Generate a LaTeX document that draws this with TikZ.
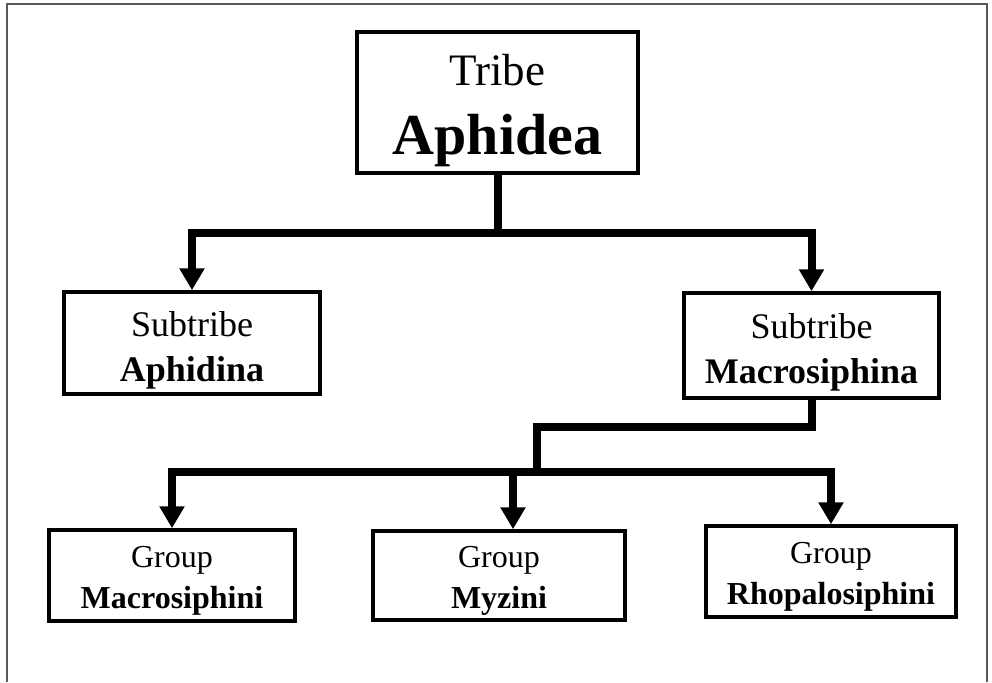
\documentclass[tikz,border=0pt]{standalone}
\usepackage{fontspec}
\setmainfont{Liberation Serif}
\usetikzlibrary{arrows.meta}
\begin{document}
\begin{tikzpicture}[x=1pt,y=-1pt,
  taxbox/.style={draw=black,line width=3.5pt,inner sep=0pt,fill=white},
  taxtext/.style={inner sep=0pt,align=center},
  conn/.style={line width=8pt,line join=miter,draw=black},
  tip/.style={-{Triangle[length=22pt,width=24pt]}},
  bothtips/.style={{Triangle[length=22pt,width=24pt]}-{Triangle[length=22pt,width=24pt]}},
  frameline/.style={draw=black!65,line width=2pt}
]
\useasboundingbox (0,0) rectangle (992,682);
% outer frame (open at the bottom)
\draw[frameline] (7,682) -- (7,4) -- (987,4) -- (987,682);

% tribe
\node[taxbox,minimum width=281pt,minimum height=141pt] (tribe) at (497.5,102.5) {};
\node[taxtext,font=\fontsize{45}{69}\selectfont,yshift=-8pt] (tribe-t) at (tribe.center)
  {Tribe\\{\fontsize{58}{69}\selectfont\bfseries Aphidea}};

% subtribes
\node[taxbox,minimum width=256pt,minimum height=102pt] (aphidina) at (192,343) {};
\node[taxtext,font=\fontsize{36}{45}\selectfont,yshift=-7pt] (aphidina-t) at (aphidina.center)
  {Subtribe\\\textbf{Aphidina}};
\node[taxbox,minimum width=255pt,minimum height=105pt] (macro) at (811.5,345.5) {};
\node[taxtext,font=\fontsize{36}{45}\selectfont,yshift=-7pt] (macro-t) at (macro.center)
  {Subtribe\\\textbf{Macrosiphina}};

% groups
\node[taxbox,minimum width=246pt,minimum height=91pt] (gmac) at (172,575.5) {};
\node[taxtext,font=\fontsize{32}{41}\selectfont,yshift=-5pt] (gmac-t) at (gmac.center)
  {Group\\\textbf{Macrosiphini}};
\node[taxbox,minimum width=252pt,minimum height=89pt] (gmyz) at (499,575.5) {};
\node[taxtext,font=\fontsize{32}{41}\selectfont,yshift=-5pt] (gmyz-t) at (gmyz.center)
  {Group\\\textbf{Myzini}};
\node[taxbox,minimum width=250pt,minimum height=91pt] (grho) at (831,571.5) {};
\node[taxtext,font=\fontsize{32}{41}\selectfont,yshift=-5pt] (grho-t) at (grho.center)
  {Group\\\textbf{Rhopalosiphini}};

% junction points of the connector buses
\coordinate (bus1) at (497.5,233);
\coordinate (k1) at (537,427);
\coordinate (k2) at (537,472);
\coordinate (k3) at (513,472);

% tribe -> subtribes
\draw[conn] (tribe.south) -- (bus1);
\draw[conn,bothtips] (aphidina.north) |- (bus1) -| (macro.north);

% Macrosiphina -> groups
\draw[conn] (macro.south) |- (k1) -- (k2);
\draw[conn,bothtips] (gmac.north) |- (k2) -| (grho.north);
\draw[conn,tip] (k3) -- (k3 |- gmyz.north);
\end{tikzpicture}
\end{document}
